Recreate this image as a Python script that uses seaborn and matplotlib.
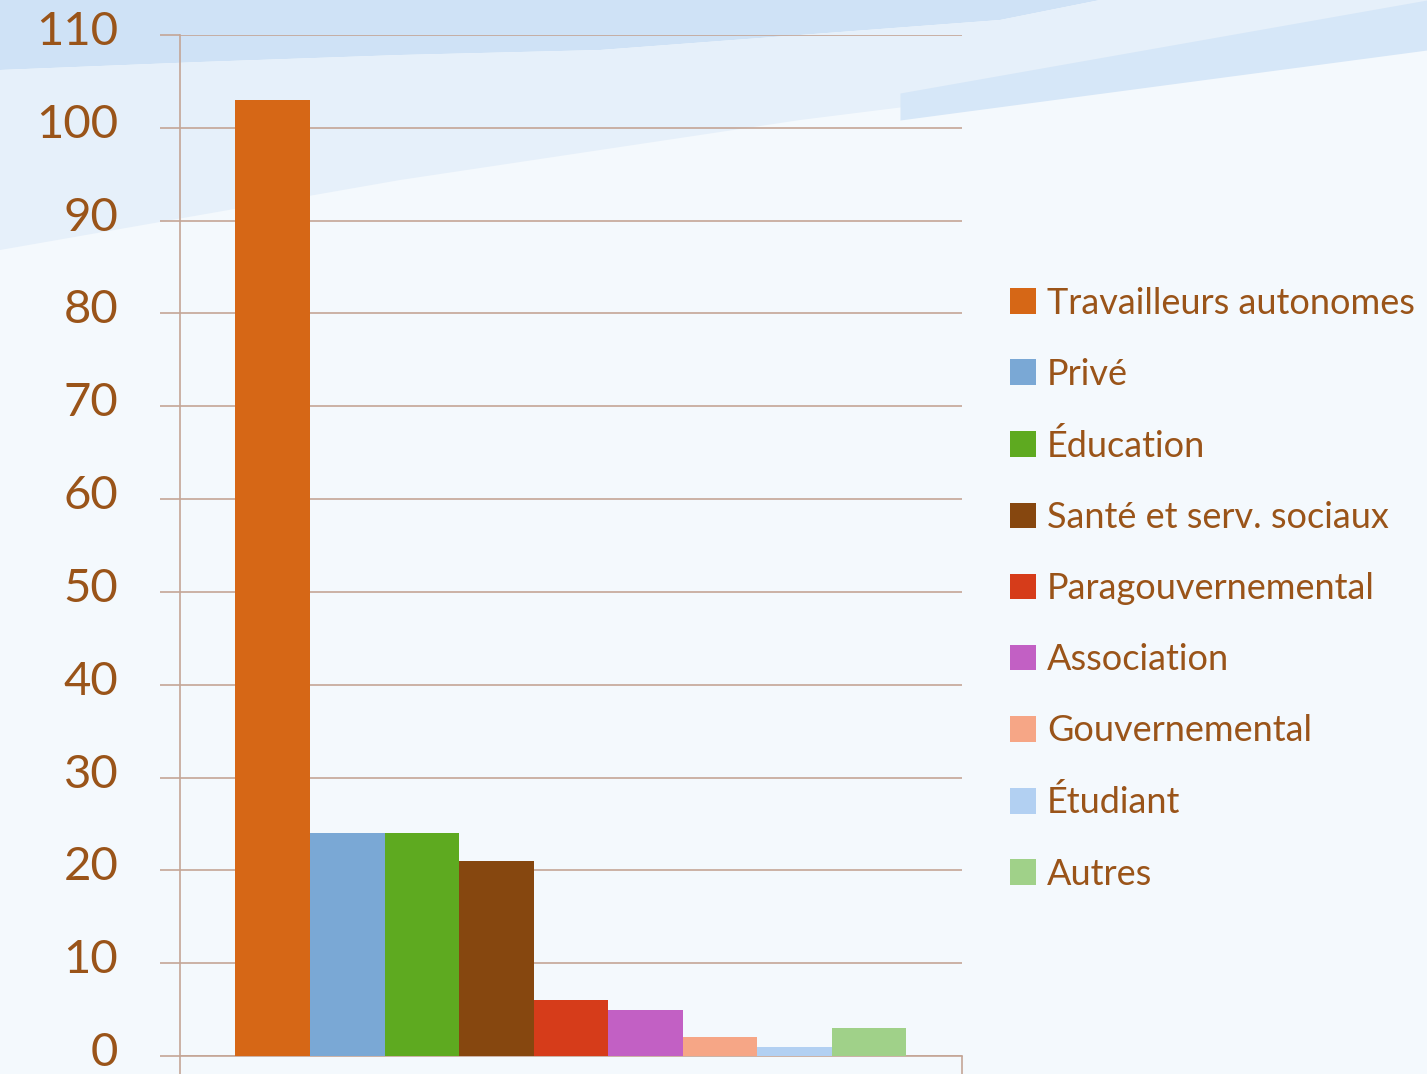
import numpy as np
import pandas as pd
import seaborn as sns
import matplotlib.pyplot as plt
from matplotlib.transforms import ScaledTranslation

# values
categories = ["Travailleurs autonomes", "Privé", "Éducation", "Santé et serv. sociaux",
              "Paragouvernemental", "Association", "Gouvernemental", "Étudiant", "Autres"]
counts = [103, 24, 24, 21, 6, 5, 2, 1, 3]
colors = ["#D66716", "#7AA8D5", "#5EAA20", "#86470F", "#D63C1A",
          "#C260C4", "#F6A686", "#B2D0F2", "#A0D189"]
yticks = list(range(0, 111, 10))

text_col = "#9A5419"
grid_col = "#C4A596"

sns.set_style("white")
plt.rcParams['font.family'] = ['Lato', 'DejaVu Sans']

df = pd.DataFrame({"groupe": [""] * len(categories), "secteur": categories, "n": counts})

W, H = 1427, 1074
fig = plt.figure(figsize=(W / 100, H / 100), dpi=100)
fig.patch.set_facecolor("#F4F9FD")

# light wavy bands of the background (pixel space, y downwards)
bg = fig.add_axes([0, 0, 1, 1], zorder=-10)
bg.set_xlim(0, W)
bg.set_ylim(H, 0)
bg.axis("off")
xs = np.array([0, 200, 400, 600, 800, 1000, 1100, 1427])
band1 = np.array([70, 62, 55, 50, 35, 20, 0, 0])
band2 = np.array([250, 215, 180, 150, 120, 95, 80, 40])
bg.fill_between(xs, 0, band1, color="#CFE2F6", lw=0)
bg.fill_between(xs, band1, band2, color="#E6F0FA", lw=0)
bg.fill_between([900, 1427], [93, 0], [120, 50], color="#D6E7F8", lw=0)

ax = fig.add_axes([0.1261, 0.01676, 0.548, 0.9507])
ax.patch.set_alpha(0)
sns.barplot(data=df, x="groupe", y="n", hue="secteur", hue_order=categories,
            palette=colors, saturation=1, width=0.858, errorbar=None,
            linewidth=0, ax=ax, zorder=3)

ax.set_ylim(0, 110)
ax.set_xlim(-0.5, 0.5)
ax.set_yticks(yticks)
ax.set_yticklabels([str(t) for t in yticks], fontsize=34, color=text_col)
ax.set_xticks([-0.5, 0.5])
ax.set_xticklabels(["", ""])
ax.set_xlabel("")
ax.set_ylabel("")
ax.tick_params(axis="y", left=True, length=14.4, width=1.2, color=grid_col, pad=30)
ax.tick_params(axis="x", bottom=True, length=14.4, width=1.2, color=grid_col, direction="out")
ax.yaxis.grid(True, color=grid_col, lw=1.2)
ax.set_axisbelow(True)
for s in ["top", "right"]:
    ax.spines[s].set_visible(False)
for s in ["left", "bottom"]:
    ax.spines[s].set_color(grid_col)
    ax.spines[s].set_linewidth(1.2)

# labels sit slightly above their gridlines in the reference
lift = ScaledTranslation(0, 5 / 72, fig.dpi_scale_trans)
for lab in ax.get_yticklabels():
    lab.set_transform(lab.get_transform() + lift)

handles, labels = ax.get_legend_handles_labels()
ax.legend(handles, labels, loc="upper left", bbox_to_anchor=(0.7078, 0.733),
          bbox_transform=fig.transFigure, frameon=False, fontsize=26,
          labelcolor=text_col, handlelength=0.72, handleheight=0.72,
          handletextpad=0.3, labelspacing=1.055, borderpad=0, borderaxespad=0)

fig.savefig("out.png", dpi=100, facecolor=fig.get_facecolor())
